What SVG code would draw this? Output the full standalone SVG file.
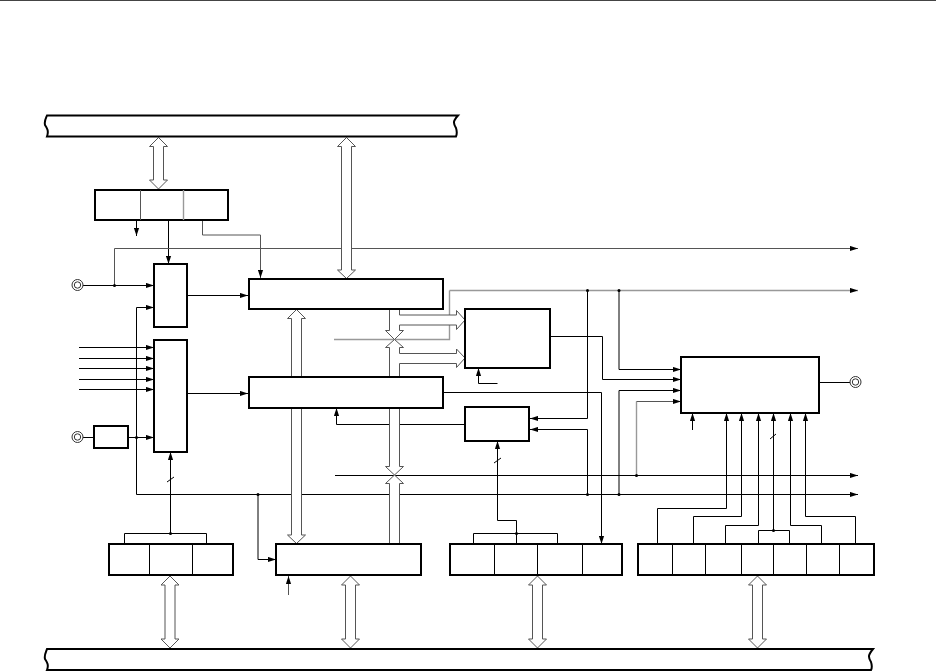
<svg xmlns="http://www.w3.org/2000/svg" width="936" height="672" viewBox="0 0 936 672">
<style>
.box{fill:#fff;stroke:#000;stroke-width:2}
.div{fill:none;stroke:#000;stroke-width:1}
.w{fill:none;stroke:#000;stroke-width:1}
.g{fill:none;stroke:#555;stroke-width:1}
.lg{fill:none;stroke:#999;stroke-width:1.4}
.a{marker-end:url(#ah)}
.bus{fill:#fff;stroke:#555;stroke-width:1}
.dot{fill:#000}
.pin{fill:#fff;stroke:#333;stroke-width:1}
</style>
<defs>
<marker id="ah" markerUnits="userSpaceOnUse" viewBox="0 0 8 6" refX="8" refY="3" markerWidth="8" markerHeight="6" orient="auto"><path d="M0 0.4L8 3L0 5.6Z" fill="#000"/></marker>
</defs>
<rect x="0" y="0" width="936" height="1" fill="#444"/>
<g id="connectors">
<path class="w a" d="M136.5 220V236"/>
<path class="w a" d="M168.5 220V264"/>
<path class="g a" d="M202.5 220V235H260.5V278"/>
<path class="g a" d="M114.5 285V248.5H858"/>
<path class="w a" d="M83 285.5H154"/>
<path class="w a" d="M187 295.5H248"/>
<path class="w a" d="M136.5 494.5V307.5H154"/>
<path class="w a" d="M79 347.5H154"/>
<path class="w a" d="M79 358.5H154"/>
<path class="w a" d="M79 368.5H154"/>
<path class="w a" d="M79 379.5H154"/>
<path class="w a" d="M79 389.5H154"/>
<path class="w a" d="M187 393.5H248"/>
<path class="w" d="M83 437.5H94"/>
<path class="w a" d="M128 437.5H154"/>
<path class="w a" d="M136.5 494.5H858"/>
<path class="w a" d="M258 494.5V559.5H276"/>
<path class="w a" d="M170.5 533V452"/>
<path class="w" d="M124.5 544V533.5H206.5V544"/>
<path class="w" d="M167 482L174 477"/>
<path class="g a" d="M288.5 595V576"/>
<path class="lg" d="M334 339.5H449.5V290.5"/>
<path class="lg a" d="M449.5 290.5H858"/>
<path class="w a" d="M587.5 290.5V418.5H530"/>
<path class="w a" d="M587.5 494.5V429.5H530"/>
<path class="w a" d="M619 290.5V369.5H681"/>
<path class="w a" d="M550 336.5H602.5V379.5H681"/>
<path class="w a" d="M619 494.5V390.5H681"/>
<path class="lg" d="M636.5 475V401.5"/>
<path class="g a" d="M636.5 401.5H681"/>
<path class="w a" d="M335 475.5H858"/>
<path class="w a" d="M443 392.5H601.5V544"/>
<path class="w a" d="M478.5 383.5H497.5M478.5 383.5V368"/>
<path class="w a" d="M465 424.5H336.5V408"/>
<path class="w a" d="M473.5 544V533.5H557.5V544M516.5 544V520.5H497.5V441"/>
<path class="w" d="M494 463L501 458"/>
<path class="w a" d="M657.5 544V508.5H726.5V413"/>
<path class="w a" d="M693.5 544V516.5H741.5V413"/>
<path class="w a" d="M725.5 544V525.5H758.5V413"/>
<path class="w" d="M758.5 544V530.5H789.5V544"/>
<path class="w a" d="M773.5 530.5V413"/>
<path class="w a" d="M821.5 544V525.5H790.5V413"/>
<path class="w a" d="M855.5 544V516.5H805.5V413"/>
<path class="w" d="M770 439L776 434"/>
<path class="w" d="M819 382.5H850"/>
<path class="w a" d="M692.5 430V413"/>
<path class="bus" d="M158.5 137.5L167.5 146.5H163.5V180H167.5L158.5 189L149.5 180H153.5V146.5H149.5Z"/>
<path class="bus" d="M346.5 137.5L355.5 146.5H351.5V270H355.5L346.5 278.5L337.5 270H341.5V146.5H337.5Z"/>
<path class="bus" d="M296.5 309.5L305.5 318.5H301.5V535H305.5L296.5 543.5L287.5 535H291.5V318.5H287.5Z"/>
<path class="bus" d="M170 576L179 585H175V639H179L170 648L161 639H165V585H161Z"/>
<path class="bus" d="M350.5 576L359.5 585H355.5V639H359.5L350.5 648L341.5 639H345.5V585H341.5Z"/>
<path class="bus" d="M537.5 576L546.5 585H542.5V639H546.5L537.5 648L528.5 639H532.5V585H528.5Z"/>
<path class="bus" d="M757.5 576L766.5 585H762.5V639H766.5L757.5 648L748.5 639H752.5V585H748.5Z"/>
<path class="bus" d="M389.5 309V330.5H385.5L394.5 339.5L403.5 330.5H399.5V325H456.5V329.5L465 320L456.5 310.5V315H399.5V309Z"/>
<path class="bus" d="M389.5 377V347.5H385.5L394.5 339.5L403.5 347.5H399.5V353.5H456.5V349L465 358L456.5 367.5V363.5H399.5V377Z"/>
<path class="bus" d="M389.5 408V466.5H385.5L394.5 475L403.5 466.5H399.5V408Z"/>
<path class="bus" d="M389.5 544V483.5H385.5L394.5 475L403.5 483.5H399.5V544Z"/>
<circle class="dot" cx="114.5" cy="285.5" r="1.5"/>
<circle class="dot" cx="136.5" cy="437.5" r="1.5"/>
<circle class="dot" cx="258" cy="494.5" r="1.5"/>
<circle class="dot" cx="170.5" cy="533.5" r="1.5"/>
<circle class="dot" cx="516.5" cy="533.5" r="1.5"/>
<circle class="dot" cx="587.5" cy="290.5" r="1.5"/>
<circle class="dot" cx="619" cy="290.5" r="1.5"/>
<circle class="dot" cx="587.5" cy="494.5" r="1.5"/>
<circle class="dot" cx="619" cy="494.5" r="1.5"/>
<circle class="dot" cx="636.5" cy="475.5" r="1.5"/>
<circle class="dot" cx="773.5" cy="530.5" r="1.5"/>
</g>
<g id="bus-top"><path class="box" d="M47 115.5H458C453 121 453 123 456 128C457 131 457 134 456 136.5H47C49 131 47 128 45 125C44 121 46 118 47 115.5Z"/></g>
<g id="bus-bottom"><path class="box" d="M47 649H873C868 655 868 657 871 662C872 665 872 668 871 670H47C49 665 47 662 45 659C44 655 46 652 47 649Z"/></g>
<g id="reg-top"><rect class="box" x="95" y="190" width="133" height="30"/><path class="g" d="M140.5 190V220"/><path class="lg" d="M183.5 190V220"/></g>
<g id="box-a"><rect class="box" x="154" y="264" width="33" height="63"/></g>
<g id="box-b"><rect class="box" x="154" y="340" width="33" height="112"/></g>
<g id="box-small"><rect class="box" x="94" y="426" width="34" height="22"/></g>
<g id="box-main1"><rect class="box" x="249" y="279" width="194" height="30"/></g>
<g id="box-main2"><rect class="box" x="249" y="377" width="194" height="31"/></g>
<g id="box-c"><rect class="box" x="465" y="309" width="85" height="59"/></g>
<g id="box-d"><rect class="box" x="465" y="407" width="64" height="34"/></g>
<g id="box-right"><rect class="box" x="681" y="357" width="138" height="56"/></g>
<g id="reg-1"><rect class="box" x="109" y="544" width="124" height="31"/><path class="div" d="M149.5 544V575M192.5 544V575"/></g>
<g id="reg-2"><rect class="box" x="276" y="544" width="145" height="31"/></g>
<g id="reg-3"><rect class="box" x="450" y="544" width="172" height="31"/><path class="div" d="M494.5 544V575M537.5 544V575M582.5 544V575"/></g>
<g id="reg-4"><rect class="box" x="638" y="544" width="236" height="31"/><path class="div" d="M672.5 544V575M705.5 544V575M741.5 544V575M773.5 544V575M806.5 544V575M839.5 544V575"/></g>
<g id="pin-1"><circle class="pin" cx="77.5" cy="285" r="5.5"/><circle class="pin" cx="77.5" cy="285" r="3.2"/></g>
<g id="pin-2"><circle class="pin" cx="77.5" cy="437" r="5.5"/><circle class="pin" cx="77.5" cy="437" r="3.2"/></g>
<g id="pin-3"><circle class="pin" cx="855.5" cy="382" r="5.5"/><circle class="pin" cx="855.5" cy="382" r="3.2"/></g>
</svg>
